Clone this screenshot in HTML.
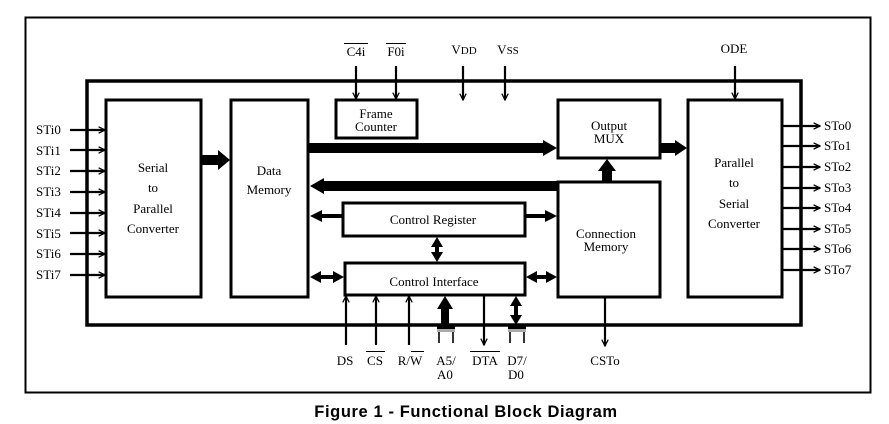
<!DOCTYPE html>
<html><head><meta charset="utf-8"><style>
html,body{margin:0;padding:0;background:#fff;width:889px;height:424px;overflow:hidden}
text{font-family:"Liberation Serif",serif;font-size:13px;fill:#000}
.cap{font-family:"Liberation Sans",sans-serif;font-weight:bold;font-size:16.5px;letter-spacing:0.6px}
</style></head><body>
<svg width="889" height="424" viewBox="0 0 889 424" xmlns="http://www.w3.org/2000/svg">
<defs>
<marker id="a" viewBox="0 0 10 10" refX="9" refY="5" markerWidth="8" markerHeight="8" markerUnits="userSpaceOnUse" orient="auto"><path d="M1,1 L9,5 L1,9" fill="none" stroke="#000" stroke-width="1.6"/></marker>
</defs>
<rect x="25.5" y="17.5" width="845" height="375" fill="none" stroke="#000" stroke-width="2"/>
<rect x="87" y="81" width="714" height="244" fill="none" stroke="#000" stroke-width="3.5"/>
<g fill="#fff" stroke="#000" stroke-width="3">
<rect x="106" y="100" width="95" height="197"/>
<rect x="231" y="100" width="77" height="197"/>
<rect x="336" y="100" width="81" height="38"/>
<rect x="558" y="100" width="102" height="58"/>
<rect x="558" y="182" width="102" height="115"/>
<rect x="688" y="100" width="94" height="197"/>
<rect x="343" y="203" width="182" height="33"/>
<rect x="345" y="263" width="180" height="32"/>
</g>
<g stroke="#000" stroke-width="2.2" marker-end="url(#a)">
<line x1="70" y1="130" x2="105" y2="130"/><line x1="70" y1="150" x2="105" y2="150"/>
<line x1="70" y1="171" x2="105" y2="171"/><line x1="70" y1="192" x2="105" y2="192"/>
<line x1="70" y1="213" x2="105" y2="213"/><line x1="70" y1="233" x2="105" y2="233"/>
<line x1="70" y1="254" x2="105" y2="254"/><line x1="70" y1="275" x2="105" y2="275"/>
<line x1="782" y1="126" x2="820" y2="126"/><line x1="782" y1="146" x2="820" y2="146"/>
<line x1="782" y1="167" x2="820" y2="167"/><line x1="782" y1="188" x2="820" y2="188"/>
<line x1="782" y1="208" x2="820" y2="208"/><line x1="782" y1="229" x2="820" y2="229"/>
<line x1="782" y1="249" x2="820" y2="249"/><line x1="782" y1="270" x2="820" y2="270"/>
<line x1="356" y1="66" x2="356" y2="99"/><line x1="396" y1="66" x2="396" y2="99"/>
<line x1="463" y1="66" x2="463" y2="100"/><line x1="505" y1="66" x2="505" y2="100"/>
<line x1="735" y1="66" x2="735" y2="99"/>
<line x1="346" y1="345" x2="346" y2="296"/><line x1="376" y1="345" x2="376" y2="296"/>
<line x1="409" y1="345" x2="409" y2="296"/>
<line x1="484" y1="296" x2="484" y2="345"/>
<line x1="605" y1="298" x2="605" y2="346"/>
</g>
<!-- big buses -->
<polygon points="201,155 218,155 218,150 230,160 218,170 218,165 201,165" fill="#000"/>
<polygon points="309,143 543,143 543,140 557,148 543,156 543,153 309,153" fill="#000"/>
<polygon points="557,181 324,181 324,178 310,186 324,194 324,191 557,191" fill="#000"/>
<polygon points="661,143 675,143 675,140 687,148 675,156 675,153 661,153" fill="#000"/>
<polygon points="602,182 602,171 598,171 607,159 616,171 612,171 612,182" fill="#000"/>
<g fill="#000">
<!-- control register -> data memory -->
<polygon points="342,214 322,214 322,210 310,216 322,222 322,218 342,218"/>
<!-- control register -> conn mem -->
<polygon points="526,214 545,214 545,210 557,216 545,222 545,218 526,218"/>
<!-- control interface <-> data memory -->
<polygon points="310,277 321,271 321,275 333,275 333,271 344,277 333,283 333,279 321,279 321,283"/>
<!-- control interface <-> conn mem -->
<polygon points="526,277 537,271 537,275 546,275 546,271 557,277 546,283 546,279 537,279 537,283"/>
<!-- vertical between -->
<polygon points="437,237 443,247 439,247 439,252 443,252 437,262 431,252 435,252 435,247 431,247"/>
<!-- D7/D0 bidir -->
<polygon points="516,296 522,306 518,306 518,315 522,315 516,325 510,315 514,315 514,306 510,306"/>
</g>
<polygon points="441,326 441,309 437,309 445,296 453,309 449,309 449,326" fill="#000"/>
<g>
<rect x="437" y="325" width="18" height="4" fill="#000"/><rect x="437" y="329" width="18" height="3" fill="#aaa"/>
<line x1="439" y1="332" x2="439" y2="343" stroke="#000" stroke-width="1.6"/><line x1="453" y1="332" x2="453" y2="343" stroke="#000" stroke-width="1.6"/>
<rect x="508" y="325" width="18" height="4" fill="#000"/><rect x="508" y="329" width="18" height="3" fill="#aaa"/>
<line x1="510" y1="332" x2="510" y2="343" stroke="#000" stroke-width="1.6"/><line x1="524" y1="332" x2="524" y2="343" stroke="#000" stroke-width="1.6"/>
</g>
<!-- labels -->
<g>
<text x="36" y="134">STi0</text><text x="36" y="155">STi1</text><text x="36" y="175">STi2</text><text x="36" y="196">STi3</text>
<text x="36" y="217">STi4</text><text x="36" y="238">STi5</text><text x="36" y="258">STi6</text><text x="36" y="279">STi7</text>
<text x="824" y="130">STo0</text><text x="824" y="150">STo1</text><text x="824" y="171">STo2</text><text x="824" y="192">STo3</text>
<text x="824" y="212">STo4</text><text x="824" y="233">STo5</text><text x="824" y="253">STo6</text><text x="824" y="274">STo7</text>
</g>
<g text-anchor="middle">
<text x="153" y="172">Serial</text><text x="153" y="192">to</text><text x="153" y="213">Parallel</text><text x="153" y="233">Converter</text>
<text x="269" y="175">Data</text><text x="269" y="194">Memory</text>
<text x="376" y="118">Frame</text><text x="376" y="131">Counter</text>
<text x="609" y="130">Output</text><text x="609" y="143">MUX</text>
<text x="606" y="238">Connection</text><text x="606" y="251">Memory</text>
<text x="734" y="167">Parallel</text><text x="734" y="187">to</text><text x="734" y="208">Serial</text><text x="734" y="228">Converter</text>
<text x="433" y="224">Control Register</text>
<text x="434" y="286">Control Interface</text>
<text x="734" y="53">ODE</text>
<text x="356" y="56">C4i</text><text x="396" y="56">F0i</text>
<text x="464" y="54">V<tspan font-size="11">DD</tspan></text>
<text x="508" y="54">V<tspan font-size="11">SS</tspan></text>
<text x="345" y="365">DS</text><text x="375" y="365">CS</text>
<text x="410" y="365">R/W</text>
<text x="446" y="365">A5/</text><text x="445" y="379">A0</text>
<text x="485" y="365">DTA</text>
<text x="517" y="365">D7/</text><text x="516" y="379">D0</text>
<text x="605" y="365">CSTo</text>
</g>
<g stroke="#000" stroke-width="1">
<line x1="344" y1="43.5" x2="368" y2="43.5"/><line x1="386" y1="43.5" x2="406" y2="43.5"/>
<line x1="366" y1="351.5" x2="385" y2="351.5"/><line x1="411" y1="351.5" x2="424" y2="351.5"/>
<line x1="470" y1="351.5" x2="500" y2="351.5"/>
</g>
<text class="cap" x="466" y="417" text-anchor="middle">Figure 1 - Functional Block Diagram</text>
</svg>
</body></html>
